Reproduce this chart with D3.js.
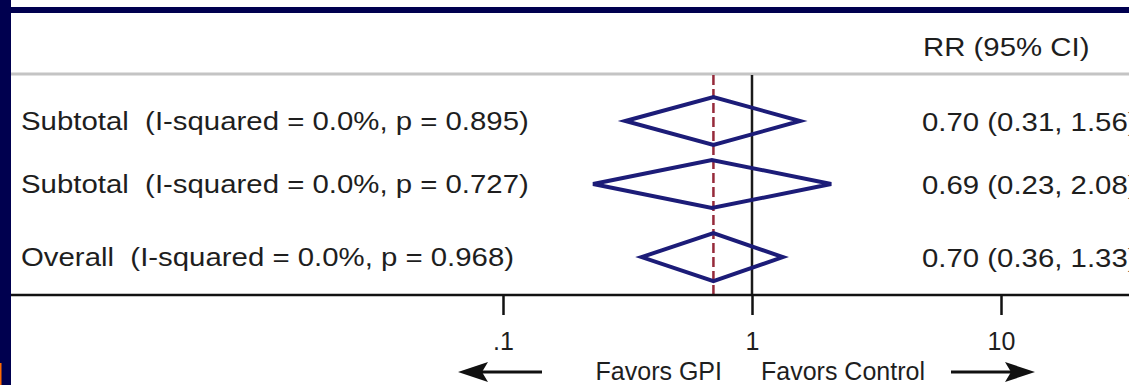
<!DOCTYPE html>
<html>
<head>
<meta charset="utf-8">
<script src="https://cdn.jsdelivr.net/npm/d3@7"></script>
<style>
  body { margin: 0; background: #fff; overflow: hidden; }
  svg { display: block; }
  text { font-family: "Liberation Sans", Arial, sans-serif; fill: #1e1e1e; }
</style>
</head>
<body>
<div id="vis"></div>
<script>
const FRAME_WIDTH = 1129;
const FRAME_HEIGHT = 385;

// data
const ROW_LABELS = [
	"Subtotal  (I-squared = 0.0%, p = 0.895)",
	"Subtotal  (I-squared = 0.0%, p = 0.727)",
	"Overall  (I-squared = 0.0%, p = 0.968)"
];
const RR = [0.70, 0.69, 0.70];
const CI_LOW = [0.31, 0.23, 0.36];
const CI_HIGH = [1.56, 2.08, 1.33];
const OVERALL_RR = 0.70;
const TICK_VALUES = [0.1, 1, 10];
const TICK_LABELS = [".1", "1", "10"];
const HEADER = "RR (95% CI)";
const LEFT_NOTE = "Favors GPI";
const RIGHT_NOTE = "Favors Control";

// layout (overall row sits a bit lower, like in the stata output)
const ROW_SLOT = [0, 1, 2.16];
const AXIS_Y = 295;
const TOP_Y = 75;
const HALF_H = 24;
const NAVY = "#00004f";
const DIAMOND = "#1c1c78";
const STRETCH = 1.13; // the table text in the original is drawn a bit wide

const rows = ROW_LABELS.map((label, i) => ({
	label: label, rr: RR[i], lo: CI_LOW[i], hi: CI_HIGH[i], slot: ROW_SLOT[i]
}));

const FRAME = d3.select("#vis")
	.append("svg")
	.attr("width", FRAME_WIDTH)
	.attr("height", FRAME_HEIGHT);

const X_SCALE = d3.scaleLog()
	.domain([0.1, 10])
	.range([503, 1001]);

const Y_SCALE = d3.scaleLinear()
	.domain([0, 1])
	.range([121, 184]);

const fmt = d3.format(".2f");

// frame decorations
FRAME.append("rect").attr("x", 0).attr("y", 7).attr("width", FRAME_WIDTH).attr("height", 6).attr("fill", NAVY);
FRAME.append("rect").attr("x", 0).attr("y", 0).attr("width", 11).attr("height", FRAME_HEIGHT).attr("fill", NAVY);
FRAME.append("rect").attr("x", 0).attr("y", 363).attr("width", 1.5).attr("height", 22).attr("fill", "#ff6a00");

// grey header rule
FRAME.append("line")
	.attr("x1", 11).attr("x2", FRAME_WIDTH)
	.attr("y1", TOP_Y - 1).attr("y2", TOP_Y - 1)
	.attr("stroke", "#c4c4c4").attr("stroke-width", 3);

FRAME.append("text")
	.attr("transform", `translate(923, 56) scale(${STRETCH}, 1)`)
	.style("font-size", "26px")
	.text(HEADER);

// null line at 1
FRAME.append("line")
	.attr("x1", X_SCALE(1)).attr("x2", X_SCALE(1))
	.attr("y1", TOP_Y).attr("y2", AXIS_Y)
	.attr("stroke", "#1a1a1a").attr("stroke-width", 2.5);

// overall estimate, dashed
FRAME.append("line")
	.attr("x1", X_SCALE(OVERALL_RR)).attr("x2", X_SCALE(OVERALL_RR))
	.attr("y1", TOP_Y).attr("y2", AXIS_Y)
	.attr("stroke", "#962a3a").attr("stroke-width", 2.5)
	.attr("stroke-dasharray", "10,4");

// diamonds
FRAME.selectAll(".diamond")
	.data(rows)
	.enter()
	.append("path")
	.attr("class", "diamond")
	.attr("d", (d) => {
		const y = Y_SCALE(d.slot);
		return `M${X_SCALE(d.lo)},${y} L${X_SCALE(d.rr)},${y - HALF_H} L${X_SCALE(d.hi)},${y} L${X_SCALE(d.rr)},${y + HALF_H} Z`;
	})
	.attr("fill", "none")
	.attr("stroke", DIAMOND)
	.attr("stroke-width", 4)
	.attr("stroke-linejoin", "miter");

// row labels
FRAME.selectAll(".label")
	.data(rows)
	.enter()
	.append("text")
	.attr("class", "label")
	.attr("transform", (d) => `translate(21, ${Y_SCALE(d.slot) + 9}) scale(${STRETCH}, 1)`)
	.style("font-size", "26px")
	.style("white-space", "pre")
	.text((d) => d.label);

// estimate text (runs off the right edge like the original)
FRAME.selectAll(".value")
	.data(rows)
	.enter()
	.append("text")
	.attr("class", "value")
	.attr("transform", (d) => `translate(922, ${Y_SCALE(d.slot) + 10}) scale(${STRETCH}, 1)`)
	.style("font-size", "26px")
	.text((d) => `${fmt(d.rr)} (${fmt(d.lo)}, ${fmt(d.hi)})`);

// x axis
FRAME.append("line")
	.attr("x1", 11).attr("x2", FRAME_WIDTH)
	.attr("y1", AXIS_Y).attr("y2", AXIS_Y)
	.attr("stroke", "#111").attr("stroke-width", 2.5);

const X_AXIS = d3.axisBottom(X_SCALE)
	.tickValues(TICK_VALUES)
	.tickFormat((d, i) => TICK_LABELS[i])
	.tickSize(20)
	.tickPadding(17);

const axisG = FRAME.append("g")
	.attr("transform", `translate(0, ${AXIS_Y})`)
	.call(X_AXIS);
axisG.select(".domain").remove();
axisG.selectAll(".tick line").attr("stroke", "#111").attr("stroke-width", 2.5);
axisG.selectAll(".tick text")
	.attr("fill", "#1e1e1e")
	.style("font-size", "25px")
	.style("font-family", "'Liberation Sans', Arial, sans-serif");

// favours notes + arrows
FRAME.append("text")
	.attr("x", X_SCALE(1) - 30).attr("y", 380)
	.attr("text-anchor", "end")
	.style("font-size", "25px")
	.text(LEFT_NOTE);

FRAME.append("text")
	.attr("x", X_SCALE(1) + 9).attr("y", 380)
	.style("font-size", "25px")
	.text(RIGHT_NOTE);

const arrow = (x1, x2, y) => {
	const dir = Math.sign(x2 - x1);
	FRAME.append("line")
		.attr("x1", x1).attr("x2", x2 - dir * 20)
		.attr("y1", y).attr("y2", y)
		.attr("stroke", "#111").attr("stroke-width", 3);
	FRAME.append("path")
		.attr("d", `M${x2},${y} L${x2 - dir * 30},${y - 10} L${x2 - dir * 24},${y} L${x2 - dir * 30},${y + 10} Z`)
		.attr("fill", "#111");
};
arrow(542, 458, 372);
arrow(951, 1035, 372);
</script>
</body>
</html>
